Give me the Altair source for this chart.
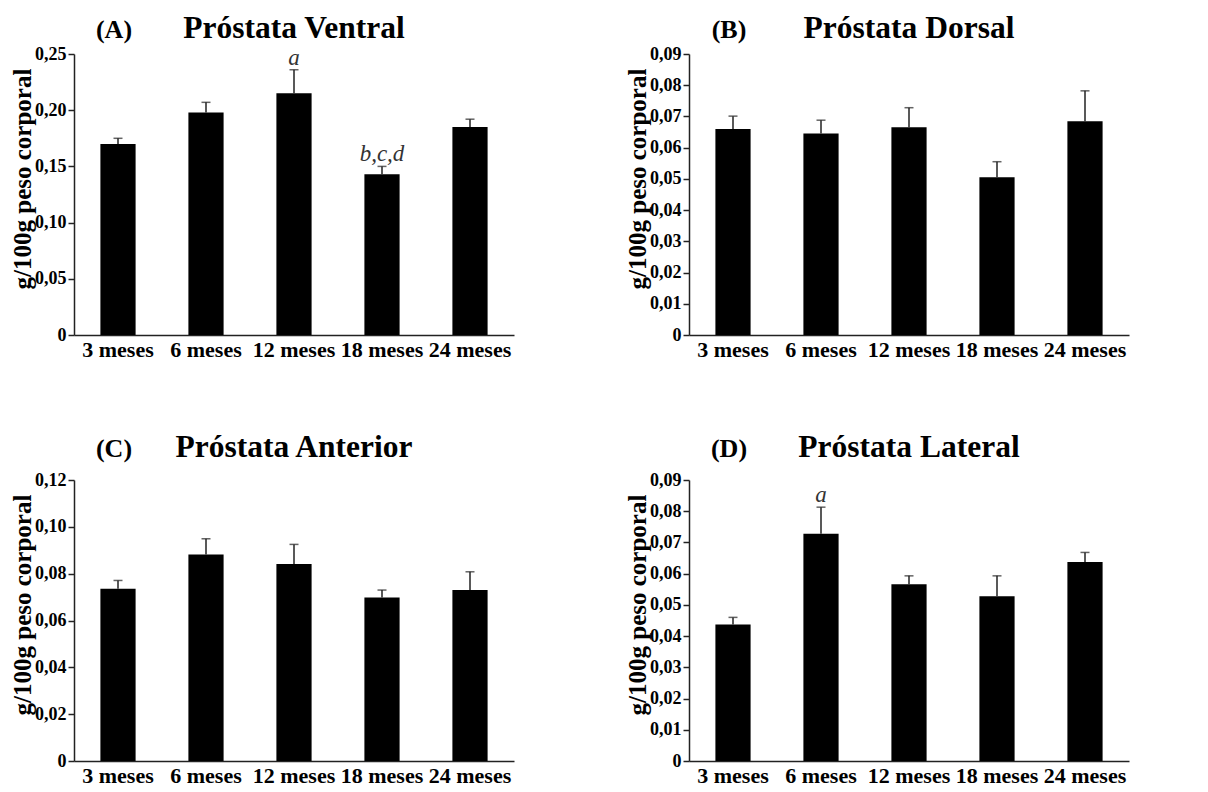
import altair as alt
import pandas as pd

FONT = "Liberation Serif"

categories = ["3 meses", "6 meses", "12 meses", "18 meses", "24 meses"]

# (A) Próstata Ventral
ventral_mean = [0.170, 0.198, 0.215, 0.143, 0.185]
ventral_err = [0.175, 0.207, 0.236, 0.150, 0.192]
ventral_sig = ["", "", "a", "b,c,d", ""]
ventral_ticks = [0, 0.05, 0.10, 0.15, 0.20, 0.25]

# (B) Próstata Dorsal
dorsal_mean = [0.0660, 0.0645, 0.0665, 0.0505, 0.0685]
dorsal_err = [0.0701, 0.0688, 0.0728, 0.0555, 0.0782]
dorsal_sig = ["", "", "", "", ""]
dorsal_ticks = [0, 0.01, 0.02, 0.03, 0.04, 0.05, 0.06, 0.07, 0.08, 0.09]

# (C) Próstata Anterior
anterior_mean = [0.0736, 0.0882, 0.0841, 0.0698, 0.0730]
anterior_err = [0.0771, 0.0949, 0.0925, 0.0730, 0.0808]
anterior_sig = ["", "", "", "", ""]
anterior_ticks = [0, 0.02, 0.04, 0.06, 0.08, 0.10, 0.12]

# (D) Próstata Lateral
lateral_mean = [0.0437, 0.0728, 0.0566, 0.0528, 0.0637]
lateral_err = [0.0460, 0.0813, 0.0593, 0.0593, 0.0668]
lateral_sig = ["", "a", "", "", ""]
lateral_ticks = [0, 0.01, 0.02, 0.03, 0.04, 0.05, 0.06, 0.07, 0.08, 0.09]

W, H = 440, 281
LABEL_EXPR = "datum.value == 0 ? '0' : replace(format(datum.value, '.2f'), '.', ',')"


def panel(letter, name, mean, err, sig, ticks, title_y):
    df = pd.DataFrame({"cat": categories, "mean": mean, "err": err, "sig": sig})
    xenc = alt.X(
        "cat:N",
        sort=categories,
        scale=alt.Scale(paddingInner=0.6, paddingOuter=0.3),
        axis=alt.Axis(
            title=None, labelAngle=0, labelFont=FONT, labelFontSize=22,
            labelFontWeight="bold", labelColor="black", ticks=False, tickSize=0,
            labelPadding=4, domainColor="#222", domainWidth=1.5, labelBaseline="top",
            labelOverlap=False, grid=False,
        ),
    )
    yenc = alt.Y(
        "mean:Q",
        scale=alt.Scale(domain=[0, ticks[-1]], nice=False),
        axis=alt.Axis(
            values=ticks, tickCount=len(ticks) + 2, labelExpr=LABEL_EXPR,
            title="g/100g peso corporal",
            labelFont=FONT, labelFontSize=18, labelFontWeight="bold", labelColor="black",
            titleFont=FONT, titleFontSize=25, titleFontWeight="bold", titleColor="black",
            titlePadding=-1, titleY=H / 2 - 16,
            tickSize=6, tickColor="#222", tickWidth=1.5,
            domainColor="#222", domainWidth=1.5, labelPadding=2, grid=False,
            labelOverlap=False,
        ),
    )
    base = alt.Chart(df)
    bars = base.mark_bar(color="black").encode(x=xenc, y=yenc)
    whisk = base.mark_rule(color="#222", strokeWidth=1.5).encode(
        x=alt.X("cat:N", sort=categories), y="mean:Q", y2="err:Q"
    )
    cap = base.mark_tick(color="#222", size=9, thickness=1.5).encode(
        x=alt.X("cat:N", sort=categories), y="err:Q"
    )
    sigt = base.mark_text(
        font=FONT, fontStyle="italic", fontSize=23, baseline="alphabetic", dy=-5, color="#333"
    ).encode(x=alt.X("cat:N", sort=categories), y="err:Q", text="sig:N")
    head = pd.DataFrame({"letter": [letter], "name": [name]})
    let_t = alt.Chart(head).mark_text(
        font=FONT, fontWeight="bold", fontSize=26, baseline="alphabetic", align="center", color="black"
    ).encode(text="letter:N", x=alt.value(40), y=alt.value(title_y))
    name_t = alt.Chart(head).mark_text(
        font=FONT, fontWeight="bold", fontSize=31.5, baseline="alphabetic", align="center", color="black"
    ).encode(text="name:N", x=alt.value(W / 2), y=alt.value(title_y))
    return alt.layer(bars, whisk, cap, sigt, let_t, name_t).properties(
        width=W, height=H, view=alt.ViewBackground(stroke="transparent", strokeWidth=0)
    )


pa = panel("(A)", "Próstata Ventral", ventral_mean, ventral_err, ventral_sig, ventral_ticks, -16)
pb = panel("(B)", "Próstata Dorsal", dorsal_mean, dorsal_err, dorsal_sig, dorsal_ticks, -16)
pc = panel("(C)", "Próstata Anterior", anterior_mean, anterior_err, anterior_sig, anterior_ticks, -23)
pd_ = panel("(D)", "Próstata Lateral", lateral_mean, lateral_err, lateral_sig, lateral_ticks, -23)

chart = (
    alt.concat(pa, pb, pc, pd_, columns=2, spacing={"row": 145, "column": 175}, bounds="flush")
    .properties(padding={"left": 2, "top": 5, "right": 5, "bottom": 5})
    .configure_view(stroke="transparent", strokeWidth=0)
    .configure_axis(grid=False)
    .configure(background="white")
)

chart.save("out.html", embed_options={"renderer": "svg", "actions": False})
